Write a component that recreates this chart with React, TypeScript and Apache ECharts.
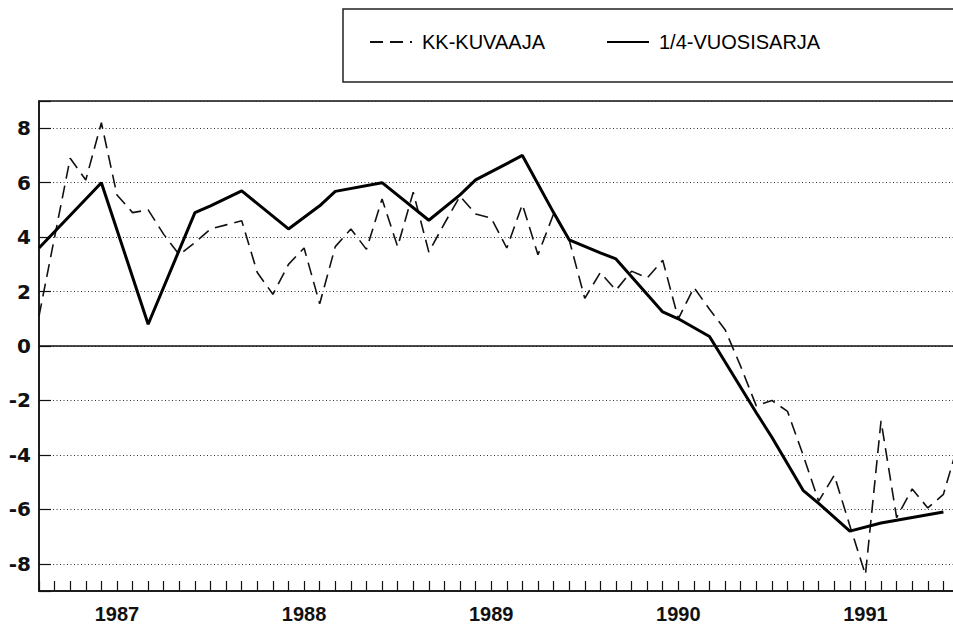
import React, { useEffect, useRef } from 'react';
import * as echarts from 'echarts';

// Month index: 0 = first monthly tick after the left axis
const monthIndex = [
  -1, 0, 1, 2, 3, 4, 5, 6, 7, 8, 9, 10, 11, 12, 13, 14, 15, 16, 17, 18, 19,
  20, 21, 22, 23, 24, 25, 26, 27, 28, 29, 30, 31, 32, 33, 34, 35, 36, 37, 38, 39,
  40, 41, 42, 43, 44, 45, 46, 47, 48, 49, 50, 51, 52, 53, 54, 55, 56, 57, 58,
];
const monthlyValues = [
  1.1, 4.0, 6.9, 6.1, 8.2, 5.55, 4.9, 5.0, 4.1, 3.35, 3.8, 4.3, 4.45, 4.6, 2.7, 1.9, 3.0, 3.6, 1.55, 3.65, 4.3,
  3.55, 5.4, 3.65, 5.65, 3.45, 4.5, 5.5, 4.85, 4.7, 3.6, 5.2, 3.35, 4.85, 3.9, 1.75, 2.7, 2.05, 2.75, 2.5, 3.15,
  1.0, 2.15, 1.35, 0.6, -0.75, -2.2, -2.0, -2.4, -4.0, -5.7, -4.75, -6.6, -8.4, -2.75, -6.3, -5.25, -5.95, -5.45, -3.5,
];
const quarterIndex = [
  -1, 3, 6, 9, 10, 12, 15, 17, 18, 21, 24, 26, 27, 30, 32, 33, 35, 36, 39, 40, 42, 45, 46, 48, 49, 51, 53, 57,
];
const quarterValues = [
  3.6, 6.0, 0.8, 4.9, 5.15, 5.7, 4.3, 5.15, 5.68, 6.0, 4.62, 5.55, 6.1, 7.0, 4.9, 3.9, 3.42, 3.2, 1.25, 1.0, 0.35,
  -2.45, -3.35, -5.3, -5.78, -6.8, -6.5, -6.1,
];
const yearLabels = ['1987', '1988', '1989', '1990', '1991'];
const yearLabelIndex = [4, 16, 28, 40, 52];
const seriesNames = ['KK-KUVAAJA', '1/4-VUOSISARJA'];

export default function App() {
  const ref = useRef<HTMLDivElement>(null);
  useEffect(() => {
    const chart = echarts.init(ref.current as HTMLDivElement, null, { renderer: 'svg' });
    const font = '"Liberation Sans", Arial, Helvetica, sans-serif';
    const monthly = monthIndex.map((k, i) => [k, monthlyValues[i]]);
    const quarterly = quarterIndex.map((k, i) => [k, quarterValues[i]]);
    chart.setOption({
      animation: false,
      backgroundColor: '#ffffff',
      textStyle: { fontFamily: font },
      grid: {
        left: 39,
        right: -6,
        top: 101,
        bottom: 33,
        show: true,
        borderColor: '#111',
        borderWidth: 1.5,
        backgroundColor: 'transparent',
        containLabel: false,
        outerBoundsMode: 'none',
      },
      graphic: [
        {
          type: 'rect',
          silent: true,
          shape: { x: 343, y: 9, width: 640, height: 73 },
          style: { fill: 'none', stroke: '#222', lineWidth: 1.5 },
        },
      ],
      legend: {
        left: 364,
        top: 27,
        itemWidth: 42,
        itemHeight: 14,
        itemGap: 61,
        selectedMode: false,
        data: seriesNames,
        itemStyle: { opacity: 0 },
        textStyle: { fontSize: 20, color: '#000', fontFamily: font, padding: [0, 0, 0, 5] },
      },
      xAxis: {
        type: 'value',
        min: -1,
        max: 58,
        interval: 1,
        axisLine: { show: true, onZero: false, lineStyle: { color: '#111', width: 1.5 } },
        axisTick: { show: true, inside: true, length: 10, lineStyle: { color: '#111', width: 1.2 } },
        axisLabel: {
          show: true,
          margin: 13,
          fontSize: 20,
          fontWeight: 'bold',
          color: '#111',
          fontFamily: font,
          formatter: (v: number) => {
            const r = Math.round(v);
            if (Math.abs(v - r) > 1e-6) return '';
            const i = yearLabelIndex.indexOf(r);
            return i >= 0 ? yearLabels[i] : '';
          },
        },
        splitLine: { show: false },
      },
      yAxis: {
        type: 'value',
        min: -9,
        max: 9,
        splitNumber: 9,
        axisLine: { show: true, onZero: false, lineStyle: { color: '#111', width: 1.5 } },
        axisTick: { show: true, inside: true, length: 12, lineStyle: { color: '#111', width: 1.2 } },
        axisLabel: {
          margin: 8,
          fontSize: 20,
          fontWeight: 'bold',
          color: '#111',
          fontFamily: '"DejaVu Sans", Arial, sans-serif',
          formatter: (v: number) => (Math.round(v) % 2 === 0 ? String(v) : ''),
        },
        splitLine: { show: true, lineStyle: { color: '#333', width: 1, type: [1, 2.5] } },
      },
      series: [
        {
          name: seriesNames[0],
          type: 'line',
          data: monthly,
          symbol: 'none',
          showSymbol: false,
          lineStyle: { color: '#111', width: 1.6, type: [13, 7] },
          itemStyle: { color: '#111' },
          z: 3,
        },
        {
          name: seriesNames[1],
          type: 'line',
          data: quarterly,
          symbol: 'none',
          showSymbol: false,
          lineStyle: { color: '#000', width: 3 },
          itemStyle: { color: '#000' },
          z: 4,
          markLine: {
            silent: true,
            symbol: ['none', 'none'],
            label: { show: false },
            lineStyle: { type: 'solid', color: '#111', width: 1.5 },
            data: [{ yAxis: 0 }],
          },
        },
      ],
    });
    return () => chart.dispose();
  }, []);
  return (
    <div
      ref={ref}
      style={{ position: 'absolute', left: 0, top: 0, width: 953, height: 624, overflow: 'hidden' }}
    />
  );
}
